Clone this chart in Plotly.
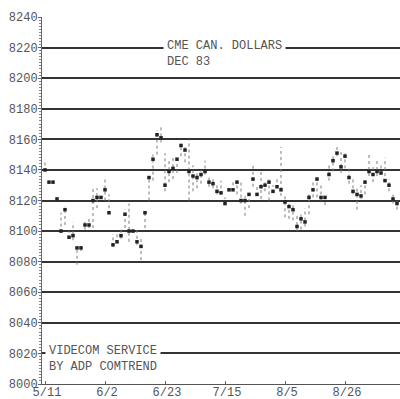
import plotly.graph_objects as go

# trading-day index (0 = 5/11)
days = list(range(89))
closes = [8140, 8132, 8132, 8121, 8100, 8114, 8096, 8097, 8089, 8089,
          8104, 8104, 8120, 8122, 8122, 8127, 8112, 8091, 8093, 8097,
          8111, 8100, 8100, 8093, 8090, 8112, 8135, 8147, 8163, 8161,
          8130, 8139, 8141, 8147, 8156, 8153, 8139, 8136, 8135, 8137,
          8139, 8132, 8131, 8126, 8125, 8118, 8127, 8127, 8132, 8120,
          8120, 8124, 8134, 8124, 8129, 8130, 8132, 8126, 8129, 8127,
          8119, 8116, 8114, 8103, 8108, 8106, 8122, 8127, 8134, 8122,
          8122, 8137, 8146, 8151, 8142, 8149, 8135, 8126, 8124, 8123,
          8132, 8139, 8137, 8139, 8138, 8133, 8130, 8121, 8118]
highs = [8147, 8133, 8133, 8124, 8112, 8116, 8100, 8106, 8090, 8090,
         8106, 8109, 8129, 8128, 8123, 8134, 8124, 8098, 8098, 8101,
         8114, 8118, 8101, 8101, 8095, 8113, 8136, 8150, 8166, 8169,
         8151, 8146, 8148, 8149, 8157, 8156, 8160, 8143, 8140, 8140,
         8146, 8135, 8135, 8130, 8133, 8122, 8129, 8132, 8133, 8132,
         8123, 8125, 8143, 8130, 8140, 8133, 8134, 8130, 8134, 8155,
         8123, 8118, 8117, 8111, 8111, 8115, 8124, 8133, 8135, 8130,
         8124, 8143, 8149, 8156, 8153, 8151, 8141, 8134, 8129, 8130,
         8133, 8150, 8143, 8146, 8144, 8148, 8134, 8124, 8120]
lows = [8139, 8131, 8131, 8120, 8099, 8104, 8095, 8094, 8078, 8087,
        8101, 8102, 8102, 8115, 8121, 8120, 8111, 8090, 8092, 8095,
        8102, 8093, 8099, 8091, 8081, 8102, 8120, 8133, 8150, 8158,
        8126, 8132, 8134, 8138, 8149, 8145, 8120, 8126, 8128, 8131,
        8137, 8129, 8128, 8124, 8124, 8117, 8126, 8126, 8124, 8118,
        8110, 8115, 8129, 8123, 8121, 8126, 8120, 8125, 8128, 8123,
        8109, 8108, 8107, 8100, 8101, 8103, 8111, 8122, 8122, 8120,
        8117, 8133, 8139, 8149, 8138, 8141, 8131, 8124, 8114, 8121,
        8124, 8136, 8132, 8136, 8137, 8132, 8126, 8118, 8114]

tick_days = [0, 15, 30, 45, 60, 75]
tick_labels = ["5/11", "6/2", "6/23", "7/15", "8/5", "8/26"]
y_ticks = list(range(8000, 8241, 20))

# build high-low segments
seg_x, seg_y = [], []
for d, h, l in zip(days, highs, lows):
    seg_x += [d, d, None]
    seg_y += [l, h, None]

FONT = "Liberation Mono"
TXT = "#555555"
GRID = "#333333"

fig = go.Figure()
fig.add_trace(go.Scatter(x=seg_x, y=seg_y, mode="lines",
                         line=dict(color="#7a7a7a", width=1, dash="dot"),
                         hoverinfo="skip", showlegend=False))
fig.add_trace(go.Scatter(x=days, y=closes, mode="markers",
                         marker=dict(symbol="square", size=3.5, color="#222222"),
                         showlegend=False))

fig.update_layout(
    width=400, height=399,
    margin=dict(l=42, r=0, t=17, b=15),
    paper_bgcolor="white", plot_bgcolor="white",
    font=dict(family=FONT, size=12, color=TXT),
    xaxis=dict(range=[-0.75, 88.75], tickmode="array", tickvals=tick_days,
               ticktext=tick_labels, showgrid=False, zeroline=False,
               automargin=False,
               showline=True, linecolor="#555555", linewidth=1,
               ticks="inside", ticklen=3, tickcolor="#666666",
               ticklabelstandoff=-3, ticklabelshift=2,
               tickfont=dict(family=FONT, size=12, color=TXT)),
    yaxis=dict(range=[8000, 8240], tickmode="array", tickvals=y_ticks,
               showgrid=True, gridcolor=GRID, gridwidth=1.5, zeroline=False,
               automargin=False,
               showline=True, linecolor="#666666", linewidth=1,
               ticks="outside", ticklen=3, tickcolor="#666666",
               ticklabelstandoff=-2,
               minor=dict(ticks="outside", ticklen=2, dtick=2, tickcolor="#888888",
                          showgrid=False),
               tickfont=dict(family=FONT, size=12, color=TXT)),
    annotations=[
        dict(text="CME CAN. DOLLARS<br>DEC 83", xref="paper", yref="paper",
             x=(163 - 42) / 358, y=1 - (35 - 17) / 367, xanchor="left", yanchor="top",
             align="left", showarrow=False, bgcolor="white", borderpad=3,
             font=dict(family=FONT, size=12, color=TXT)),
        dict(text="VIDECOM SERVICE<br>BY ADP COMTREND", xref="paper", yref="paper",
             x=(45 - 42) / 358, y=1 - (340 - 17) / 367, xanchor="left", yanchor="top",
             align="left", showarrow=False, bgcolor="white", borderpad=3,
             font=dict(family=FONT, size=12, color=TXT)),
    ],
)

fig.write_html("out.html", config={"displayModeBar": False},
               post_script="document.body.style.margin='0';document.body.style.padding='0';")
